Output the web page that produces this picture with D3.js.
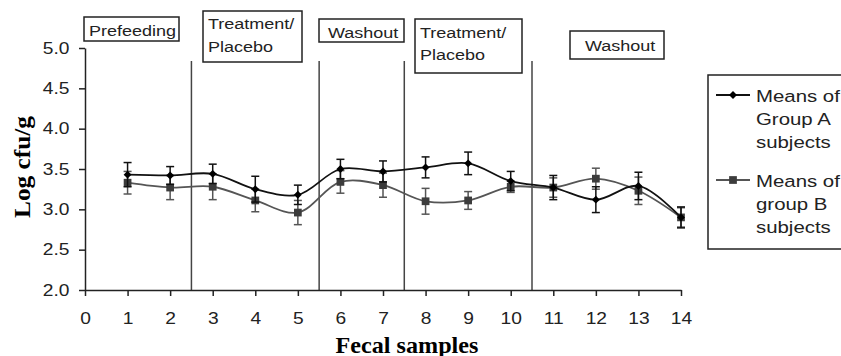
<!DOCTYPE html>
<html>
<head>
<meta charset="utf-8">
<script src="https://cdn.jsdelivr.net/npm/d3@7"></script>
<style>
  body { margin: 0; background: #fff; }
  svg { display: block; }
  text { font-family: "Liberation Sans", Arial, sans-serif; fill: #222; }
  .title { font-family: "Liberation Serif", "Times New Roman", serif; font-weight: bold; fill: #000; }
</style>
</head>
<body>
<svg id="chart" width="841" height="356"></svg>
<script>
// fecal samples 1..14
const samples = [1, 2, 3, 4, 5, 6, 7, 8, 9, 10, 11, 12, 13, 14];
const groupA = [3.43, 3.42, 3.44, 3.25, 3.18, 3.50, 3.47, 3.52, 3.57, 3.35, 3.27, 3.12, 3.29, 2.90];
const groupAErr = [0.15, 0.11, 0.12, 0.16, 0.12, 0.12, 0.13, 0.13, 0.14, 0.12, 0.15, 0.16, 0.17, 0.13];
const groupB = [3.33, 3.27, 3.28, 3.11, 2.96, 3.34, 3.30, 3.10, 3.11, 3.28, 3.27, 3.38, 3.23, 2.90];
const groupBErr = [0.14, 0.15, 0.16, 0.14, 0.15, 0.14, 0.15, 0.16, 0.11, 0.07, 0.12, 0.13, 0.17, 0.12];

const xTicks = [0, 1, 2, 3, 4, 5, 6, 7, 8, 9, 10, 11, 12, 13, 14];
const yTicks = [2.0, 2.5, 3.0, 3.5, 4.0, 4.5, 5.0];
const phaseBounds = [2.5, 5.5, 7.5, 10.5];
const phaseLabels = [["Prefeeding"], ["Treatment/", "Placebo"], ["Washout"], ["Treatment/", "Placebo"], ["Washout"]];
const seriesNames = [["Means of", "Group A", "subjects"], ["Means of", "group B", "subjects"]];

const sx = 1.2; // text in the picture is drawn a bit wide
const svg = d3.select("#chart");

const x = d3.scaleLinear().domain([0, 14]).range([85, 681]);
const y = d3.scaleLinear().domain([2, 5]).range([290, 48]);

// phase boxes: left, top, width, height, text x offset, baselines
const boxLayout = [
  {x: 84, y: 17, w: 95, h: 24, tx: 5, base: [19]},
  {x: 203, y: 11, w: 99, h: 51, tx: 5, base: [18, 41]},
  {x: 319, y: 19, w: 85, h: 23, tx: 9, base: [19]},
  {x: 415, y: 19, w: 107, h: 54, tx: 5, base: [19, 41]},
  {x: 570, y: 31, w: 94, h: 28, tx: 15, base: [20]}
];

function label(g, px, py, str, cls, size, anchor) {
  return g.append("text")
    .attr("class", cls || null)
    .attr("transform", `translate(${px},${py}) scale(${sx},1)`)
    .attr("font-size", size)
    .attr("text-anchor", anchor || "start")
    .text(str);
}

// phase separators
svg.append("g").selectAll("line")
  .data(phaseBounds)
  .join("line")
  .attr("x1", d => x(d)).attr("x2", d => x(d))
  .attr("y1", 61).attr("y2", y(2))
  .attr("stroke", "#444").attr("stroke-width", 1.5);

// axes
const xAxis = svg.append("g")
  .attr("transform", `translate(0,${y(2)})`)
  .call(d3.axisBottom(x).tickValues(xTicks).tickFormat(d3.format("d")).tickSize(6).tickSizeOuter(0).tickPadding(17));
const yAxis = svg.append("g")
  .attr("transform", `translate(${x(0)},0)`)
  .call(d3.axisLeft(y).tickValues(yTicks).tickFormat(d3.format(".1f")).tickSize(6).tickSizeOuter(0).tickPadding(7));

[xAxis, yAxis].forEach(a => {
  a.select(".domain").attr("stroke", "#222").attr("stroke-width", 1.5);
  a.selectAll(".tick line").attr("stroke", "#222").attr("stroke-width", 1.5);
  a.selectAll(".tick text")
    .attr("font-family", "Liberation Sans, Arial, sans-serif")
    .attr("font-size", 16).attr("fill", "#222")
    .attr("transform", `scale(${sx},1)`);
});

// axis titles
svg.append("text").attr("class", "title")
  .attr("transform", `translate(407,353) scale(1.05,1)`)
  .attr("text-anchor", "middle").attr("font-size", 23)
  .text("Fecal samples");
svg.append("text").attr("class", "title")
  .attr("transform", `translate(30,167) rotate(-90) scale(1.1,1)`)
  .attr("text-anchor", "middle").attr("font-size", 23)
  .text("Log cfu/g");

// series
const series = [
  {vals: groupA, err: groupAErr, line: "#111", mark: "#000", shape: d3.symbolDiamond2, size: 40},
  {vals: groupB, err: groupBErr, line: "#555", mark: "#3c3c3c", shape: d3.symbolSquare, size: 60}
];

const line = d3.line().curve(d3.curveCatmullRom.alpha(0.5))
  .x((d, i) => x(samples[i])).y(d => y(d));

series.slice().reverse().forEach(s => {
  const g = svg.append("g");
  g.append("path").datum(s.vals)
    .attr("fill", "none").attr("stroke", s.line).attr("stroke-width", 1.8)
    .attr("d", line);
  const eb = g.append("g").selectAll("g")
    .data(s.vals.map((v, i) => ({x: samples[i], v, e: s.err[i]})))
    .join("g").attr("stroke", s.line).attr("stroke-width", 1.5);
  eb.append("line")
    .attr("x1", d => x(d.x)).attr("x2", d => x(d.x))
    .attr("y1", d => y(d.v + d.e)).attr("y2", d => y(d.v - d.e));
  eb.append("line")
    .attr("x1", d => x(d.x) - 4).attr("x2", d => x(d.x) + 4)
    .attr("y1", d => y(d.v + d.e)).attr("y2", d => y(d.v + d.e));
  eb.append("line")
    .attr("x1", d => x(d.x) - 4).attr("x2", d => x(d.x) + 4)
    .attr("y1", d => y(d.v - d.e)).attr("y2", d => y(d.v - d.e));
  g.append("g").selectAll("path")
    .data(s.vals)
    .join("path")
    .attr("transform", (d, i) => `translate(${x(samples[i])},${y(d)})`)
    .attr("d", d3.symbol(s.shape, s.size))
    .attr("fill", s.mark);
});

// phase label boxes
const boxes = svg.append("g");
boxLayout.forEach((b, i) => {
  boxes.append("rect")
    .attr("x", b.x).attr("y", b.y).attr("width", b.w).attr("height", b.h)
    .attr("fill", "#fff").attr("stroke", "#222").attr("stroke-width", 1.5);
  phaseLabels[i].forEach((t, j) => label(boxes, b.x + b.tx, b.y + b.base[j], t, null, 15));
});

// legend
const leg = svg.append("g");
leg.append("rect")
  .attr("x", 708).attr("y", 75).attr("width", 140).attr("height", 174)
  .attr("fill", "#fff").attr("stroke", "#222").attr("stroke-width", 1.5);
const legRows = [95, 180];
series.forEach((s, i) => {
  leg.append("line")
    .attr("x1", 716).attr("x2", 750).attr("y1", legRows[i]).attr("y2", legRows[i])
    .attr("stroke", s.line).attr("stroke-width", 1.8);
  leg.append("path")
    .attr("transform", `translate(733,${legRows[i]})`)
    .attr("d", d3.symbol(s.shape, s.size))
    .attr("fill", s.mark);
  seriesNames[i].forEach((t, j) => label(leg, 756, legRows[i] + 7 + j * 23, t, null, 17));
});
</script>
</body>
</html>
